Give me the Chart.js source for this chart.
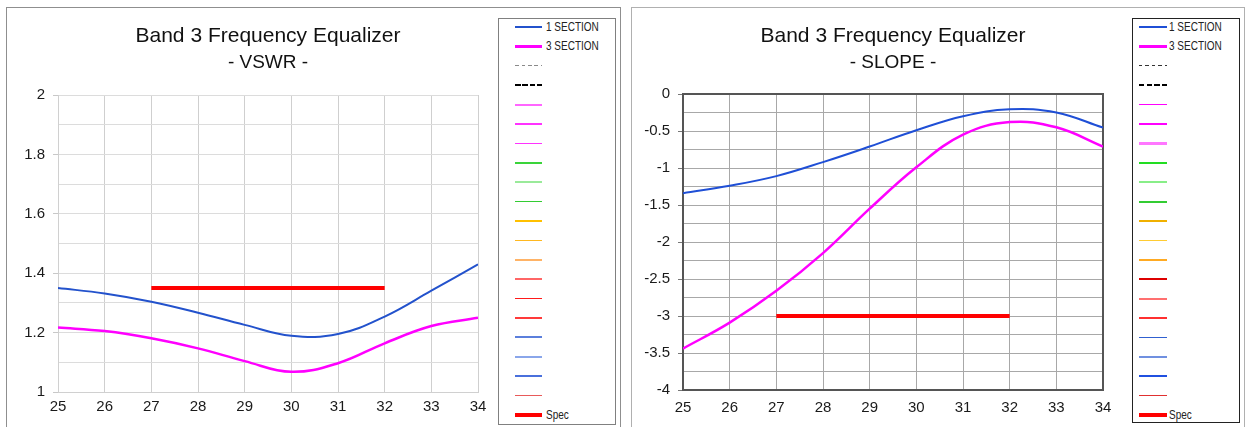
<!DOCTYPE html>
<html>
<head>
<meta charset="utf-8">
<title>Band 3 Frequency Equalizer</title>
<script src="https://cdn.jsdelivr.net/npm/chart.js@4"></script>
<style>
  html, body { margin: 0; padding: 0; width: 1246px; height: 427px; overflow: hidden; background: #fff; }
  .panel { position: absolute; top: 7px; height: 440px; box-sizing: border-box; border: 1px solid #8f8f8f; }
  .plot { position: absolute; top: 8px; width: 500px; height: 419px; }
  .legend { position: absolute; top: 18px; box-sizing: border-box; background: #fff; }
  .legend .txt { position: absolute; white-space: nowrap; line-height: 16px; height: 16px;
    font-family: 'Liberation Sans', Arial, sans-serif; font-size: 12.5px; color: #222;
    transform: scaleX(0.8); transform-origin: 0 50%; }
</style>
</head>
<body>
<div class="panel" style="left:6px;width:615px;"></div>
<div class="panel" style="left:631px;width:614px;border-color:#b0b0b0;"></div>
<div class="plot" style="left:8px;"><canvas id="vswrChart"></canvas></div>
<div class="plot" style="left:633px;"><canvas id="slopeChart"></canvas></div>
<div class="legend" id="vswrLegend" style="left:498px;width:118px;height:407px;border:1px solid #808080;"></div>
<div class="legend" id="slopeLegend" style="left:1132px;width:108px;height:405px;border:1px solid #222;"></div>

<script>
// Frequency points (GHz)
const freq = [25, 26, 27, 28, 29, 30, 31, 32, 33, 34];

// VSWR of the one- and three-section equalizers
const vswr1Section = [1.350, 1.332, 1.304, 1.267, 1.226, 1.189, 1.195, 1.254, 1.341, 1.430];
const vswr3Section = [1.217, 1.205, 1.181, 1.147, 1.104, 1.068, 1.097, 1.164, 1.222, 1.250];

// Slope (dB) of the one- and three-section equalizers
const slope1Section = [-1.34, -1.24, -1.11, -0.92, -0.71, -0.49, -0.30, -0.205, -0.25, -0.455];
const slope3Section = [-3.44, -3.09, -2.66, -2.15, -1.55, -0.99, -0.55, -0.38, -0.45, -0.71];

// Spec limits across the band
const specFreq = [27, 32];
const vswrSpec = [1.35, 1.35];
const slopeSpec = [-3, -3];

// Labelled tick values
const freqTicks = [25, 26, 27, 28, 29, 30, 31, 32, 33, 34];
const vswrTickLabels = [1, 1.2, 1.4, 1.6, 1.8, 2];
const slopeTickLabels = [0, -0.5, -1, -1.5, -2, -2.5, -3, -3.5, -4];

// Legend entries (unnamed series are kept as blank entries)
const legendLabels = ['1 SECTION', '3 SECTION', '', '', '', '', '', '', '', '', '', '', '', '', '', '', '', '', '', '', 'Spec'];

// Legend line styles: [colour, width, dash]
const vswrLegendStyles = [
  ['#2352cc', 2], ['#ff00ff', 2.5], ['#8a8a8a', 1, [3.5, 3]], ['#000', 2, [5.5, 1.8]],
  ['#ff66ff', 2], ['#ff33ff', 1.6], ['#ff33ff', 1.6], ['#3ad43a', 2], ['#9aea9a', 1.6], ['#33cc33', 1.6],
  ['#ffc000', 1.6], ['#ffb820', 1.6], ['#ffb366', 2], ['#ff6666', 2], ['#ff1a1a', 1.6], ['#ff3a3a', 1.6],
  ['#5b7fdc', 2], ['#8aa6ea', 2], ['#4a70dc', 1.6], ['#e85a5a', 1.6], ['#ff0000', 4]
];
const slopeLegendStyles = [
  ['#1f4fd6', 2], ['#ff00ff', 2.5], ['#333', 1, [3.5, 3]], ['#000', 2.5, [5.5, 2.2]],
  ['#ff00ff', 1.5], ['#ff00ff', 1.5], ['#ff77ff', 2.5], ['#22dd22', 1.5], ['#88ee88', 2], ['#33cc33', 2],
  ['#f0b000', 1.5], ['#ffcc33', 1.5], ['#ffaa22', 1.5], ['#dd0000', 1.5], ['#ff7070', 2], ['#ff3030', 1.5],
  ['#3060d0', 1.5], ['#7090e0', 2], ['#2050e0', 1.5], ['#e03030', 1.5], ['#ff0000', 4]
];

const textFont = "'Liberation Sans', Arial, sans-serif";

function toPoints(xs, ys) {
  return xs.map((x, i) => ({ x: x, y: ys[i] }));
}

function isLabelled(value, labels) {
  return labels.some(l => Math.abs(l - value) < 1e-6);
}

// Dark frame around the plot area
const plotFrame = {
  id: 'plotFrame',
  beforeDatasetsDraw(chart, args, opts) {
    if (!opts.color) return;
    const { ctx, chartArea: a } = chart;
    ctx.save();
    ctx.strokeStyle = opts.color;
    ctx.lineWidth = opts.width;
    ctx.strokeRect(a.left, a.top, a.right - a.left, a.bottom - a.top);
    ctx.restore();
  }
};

function makeChart(id, cfg) {
  return new Chart(document.getElementById(id), {
    type: 'line',
    data: {
      datasets: [
        { label: '1 SECTION', data: toPoints(freq, cfg.s1), borderColor: cfg.blue, borderWidth: 2, tension: 0.4 },
        { label: '3 SECTION', data: toPoints(freq, cfg.s3), borderColor: '#ff00ff', borderWidth: 2.5, tension: 0.4 },
        { label: 'Spec', data: toPoints(specFreq, cfg.spec), borderColor: '#ff0000', borderWidth: 4, tension: 0 }
      ]
    },
    options: {
      responsive: true,
      maintainAspectRatio: false,
      animation: false,
      devicePixelRatio: 1,
      elements: { point: { radius: 0 }, line: { borderCapStyle: 'butt' } },
      layout: { padding: { left: 0, right: 30, top: 0, bottom: 0 } },
      plugins: {
        legend: { display: false },
        tooltip: { enabled: false },
        title: {
          display: true, text: 'Band 3 Frequency Equalizer', fullSize: false, color: '#111',
          font: { family: textFont, size: 21, weight: 'normal', lineHeight: 1.2 },
          padding: { top: 16, bottom: 0 }
        },
        subtitle: {
          display: true, text: cfg.subtitle, fullSize: false, color: '#111',
          font: { family: textFont, size: 19, weight: 'normal', lineHeight: 1.2 },
          padding: { top: 2.3, bottom: cfg.subPad }
        },
        plotFrame: { color: cfg.frame, width: 2 }
      },
      scales: {
        x: {
          type: 'linear', min: freqTicks[0], max: freqTicks[freqTicks.length - 1],
          afterFit: s => { s.height = cfg.xHeight; },
          afterBuildTicks: s => { s.ticks = freqTicks.map(v => ({ value: v })); },
          ticks: { color: '#1a1a1a', padding: cfg.xPad, font: { family: textFont, size: 15 }, maxRotation: 0, autoSkip: false },
          grid: { color: cfg.gridX, lineWidth: 1, drawTicks: false },
          border: { color: cfg.axisColor, width: cfg.axisWidth }
        },
        y: {
          min: cfg.yMin, max: cfg.yMax,
          afterFit: s => { s.width = 50; },
          ticks: {
            stepSize: cfg.yStep, autoSkip: false, color: '#1a1a1a', padding: 8,
            font: { family: textFont, size: 15 },
            callback: v => isLabelled(v, cfg.yLabels) ? String(Math.round(v * 10) / 10) : ''
          },
          grid: {
            color: cfg.gridY, lineWidth: 1, tickLength: 5,
            tickColor: c => (c.tick && isLabelled(c.tick.value, cfg.yLabels)) ? cfg.tickColor : 'rgba(0,0,0,0)'
          },
          border: { color: cfg.axisColor, width: cfg.axisWidth }
        }
      }
    },
    plugins: [plotFrame]
  });
}

makeChart('vswrChart', {
  s1: vswr1Section, s3: vswr3Section, spec: vswrSpec, blue: '#2352cc',
  subtitle: '- VSWR -', subPad: 20.7, xHeight: 35, xPad: 6,
  yMin: 1, yMax: 2, yStep: 0.1, yLabels: vswrTickLabels,
  gridX: '#cfcfcf', gridY: '#dcdcdc', axisColor: '#d0d0d0', axisWidth: 1, tickColor: '#c8c8c8', frame: null
});

makeChart('slopeChart', {
  s1: slope1Section, s3: slope3Section, spec: slopeSpec, blue: '#1f4fd6',
  subtitle: '- SLOPE -', subPad: 19.7, xHeight: 37, xPad: 9,
  yMin: -4, yMax: 0, yStep: 0.25, yLabels: slopeTickLabels,
  gridX: '#a8a8a8', gridY: '#a8a8a8', axisColor: '#555', axisWidth: 2, tickColor: '#777', frame: '#555'
});

// Legend boxes
function buildLegend(id, styles, geom) {
  const box = document.getElementById(id);
  legendLabels.forEach((label, i) => {
    const [color, width, dash] = styles[i];
    const cy = geom.firstRow + i * geom.rowStep;
    const line = document.createElement('div');
    let bg = color;
    if (dash) {
      bg = `repeating-linear-gradient(to right, ${color} 0 ${dash[0]}px, transparent ${dash[0]}px ${dash[0] + dash[1]}px)`;
    }
    line.style.cssText = `position:absolute;left:${geom.sampleLeft}px;width:${geom.sampleWidth}px;` +
      `top:${(cy - width / 2).toFixed(1)}px;height:${width}px;background:${bg};`;
    box.appendChild(line);
    if (label) {
      const t = document.createElement('div');
      t.className = 'txt';
      t.textContent = label;
      t.style.left = geom.textLeft + 'px';
      t.style.top = (cy - 8).toFixed(1) + 'px';
      box.appendChild(t);
    }
  });
}

buildLegend('vswrLegend', vswrLegendStyles, { firstRow: 8, rowStep: 19.4, sampleLeft: 16, sampleWidth: 27, textLeft: 47 });
buildLegend('slopeLegend', slopeLegendStyles, { firstRow: 8, rowStep: 19.4, sampleLeft: 6, sampleWidth: 28, textLeft: 36 });
</script>
</body>
</html>
